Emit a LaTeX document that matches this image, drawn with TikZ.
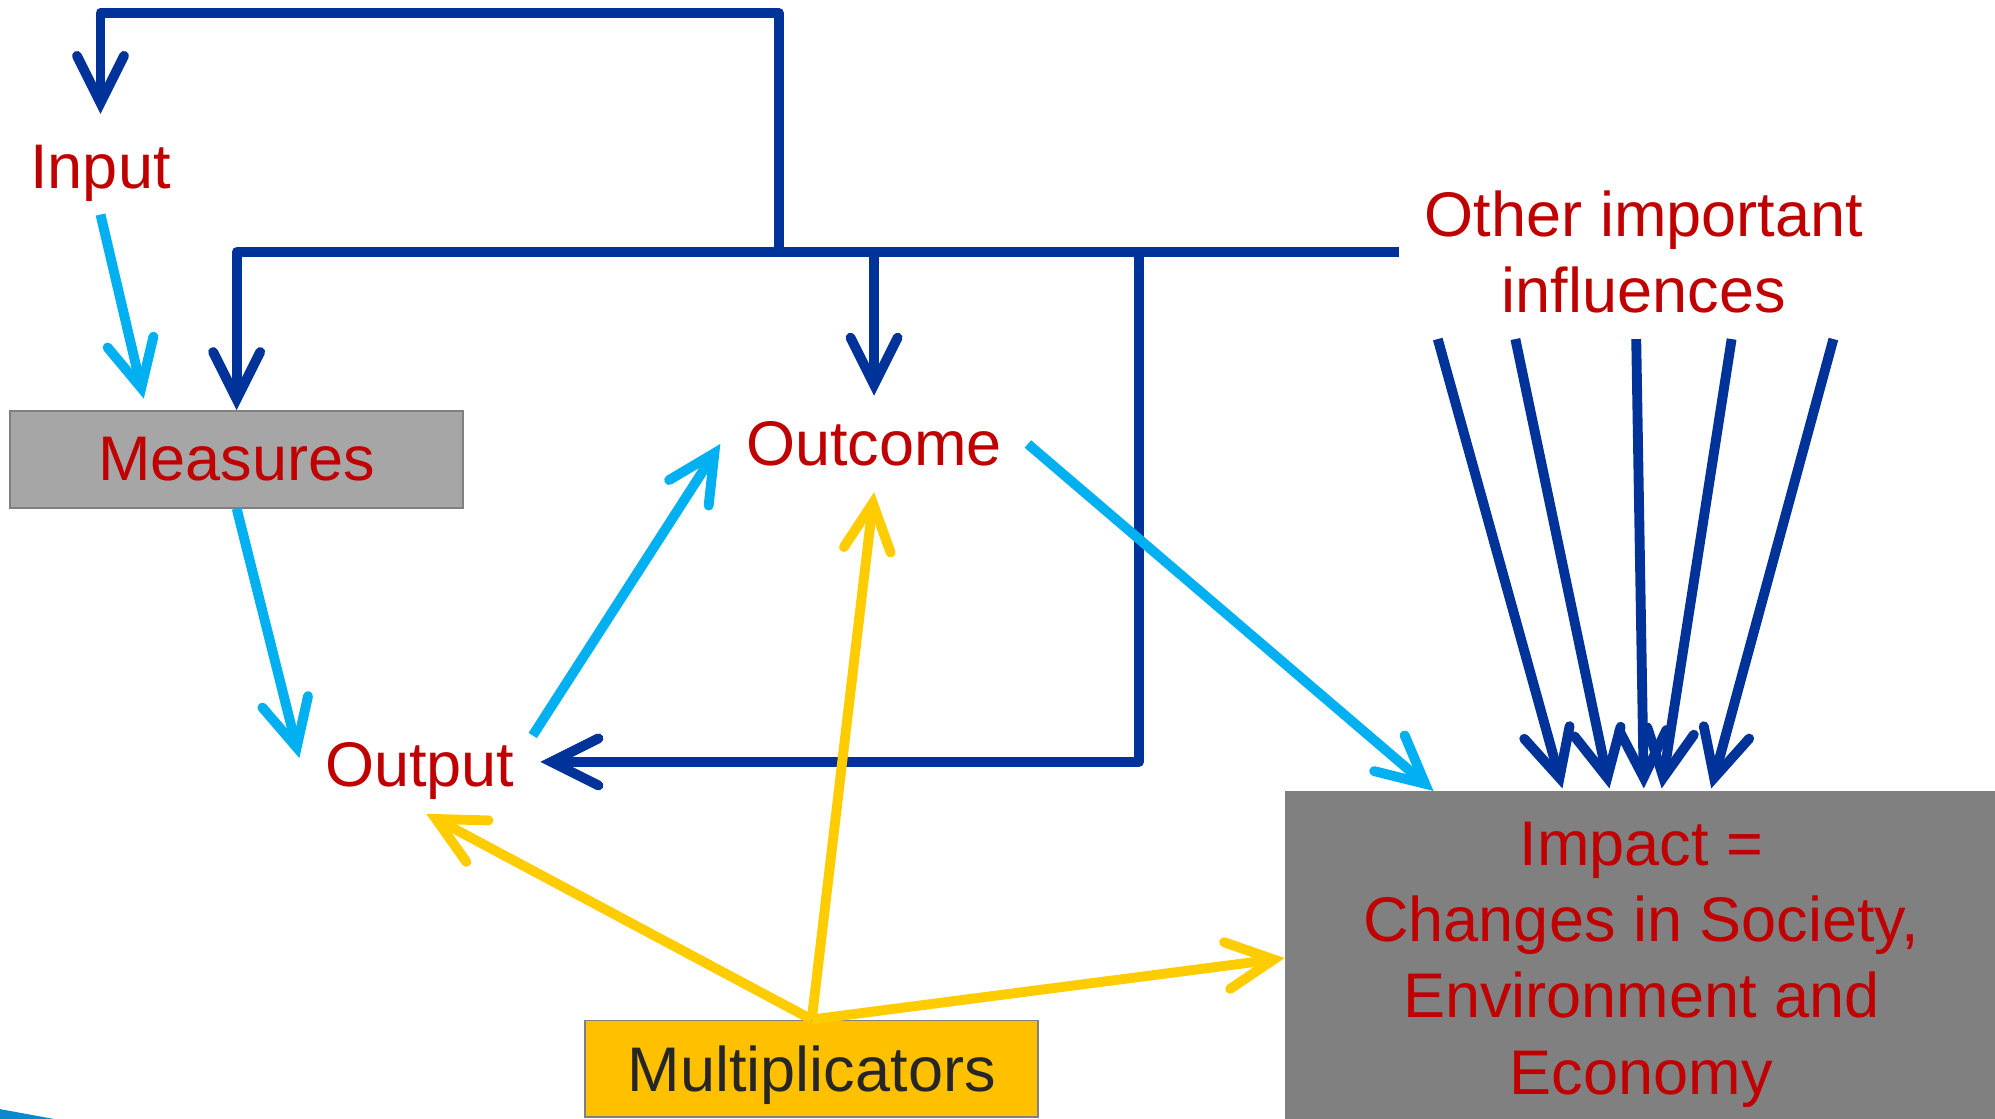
\documentclass[tikz,border=0pt]{standalone}
\usepackage{fontspec}
\setmainfont{Liberation Sans}
\usepackage{xcolor}
\usepackage{tikz}
\usetikzlibrary{arrows.meta, positioning}

\definecolor{darkblue}{HTML}{003399}
\definecolor{lightblue}{HTML}{00B0F0}
\definecolor{gold}{HTML}{FFCC00}
\definecolor{boxgold}{HTML}{FFC000}
\definecolor{darkred}{HTML}{C00000}
\definecolor{lightgray}{HTML}{A6A6A6}
\definecolor{midgray}{HTML}{808080}
\definecolor{edgeblue}{HTML}{0A8ACB}

\begin{document}
\begin{tikzpicture}[
    x=0.02cm, y=-0.02cm,
    every node/.style={font=\fontsize{28.2pt}{34.1pt}\selectfont, text=darkred},
    graybox/.style={rectangle, draw=midgray, line width=0.8pt, minimum width=7.12cm, minimum height=1.52cm},
    arrow/.style={-{Straight Barb[length=0.74cm, width=0.74cm, line cap=round, line join=miter]}, line width=0.155cm, line join=round},
    feed/.style={arrow, darkblue},
    flow/.style={arrow, lightblue},
    push/.style={arrow, gold}
]
\useasboundingbox (0,0) rectangle (1568,879);

% Nodes
\node[anchor=base, inner sep=0.3cm] (input) at (79,148) {Input};
\node[graybox, fill=lightgray] (measures) at (186,361) {Measures};
\node[anchor=base, inner xsep=0.4cm, inner ysep=0.1cm] (output) at (330,618) {Output};
\node[anchor=base, inner sep=0.4cm] (outcome) at (687,366) {Outcome};
\node[align=center, inner sep=0.4cm] (influences) at (1292,198) {Other important\\influences};
\node[fill=midgray, minimum width=11.2cm, minimum height=5.24cm, align=center, text depth=0pt] (impact) at (1290,753) {Impact =\\Changes in Society,\\Environment and\\Economy};
\node[graybox, fill=boxgold, text=black!85, text depth=0pt] (multi) at (638,840) {Multiplicators};

% cut-off piece in the corner
\draw[edgeblue, line width=0.3cm] (-40,872) -- (80,894);

% Feedback of other influences
\coordinate (jIn) at (612,198);
\coordinate (loopTop) at (612,10);
\coordinate (jOut) at (895,198);
\draw[feed] (influences.west) -| (measures.north);
\draw[feed] (jIn) -- (loopTop) -| ([yshift=0.18cm]input.north);
\draw[feed] (outcome.north |- influences.west) -- (outcome.north);
\draw[feed] (jOut) |- ([yshift=0.14cm]output.east);
\foreach \s/\e in {-3.24/-1.24, -2.02/-0.5, -0.12/0.04, 1.38/0.32, 2.98/1.1}
  \draw[feed] ([xshift=\s cm]influences.south) -- ([xshift=\e cm, yshift=0.04cm]impact.north);

% Main chain
\draw[flow] ([yshift=0.1cm]input.south) -- ([xshift=-1.46cm, yshift=0.18cm]measures.north);
\draw[flow] (measures.south) -- ([yshift=0.2cm]output.west);
\draw[flow] ([xshift=-0.12cm]output.north east) -- (outcome.west);
\draw[flow] (outcome.east) -- ([xshift=2.34cm]impact.north west);

% Multiplicators
\draw[push] (multi.north) -- ([xshift=0.1cm, yshift=-0.12cm]output.south);
\draw[push] (multi.north) -- (outcome.south);
\draw[push] (multi.north) -- (impact.west);

\end{tikzpicture}
\end{document}
